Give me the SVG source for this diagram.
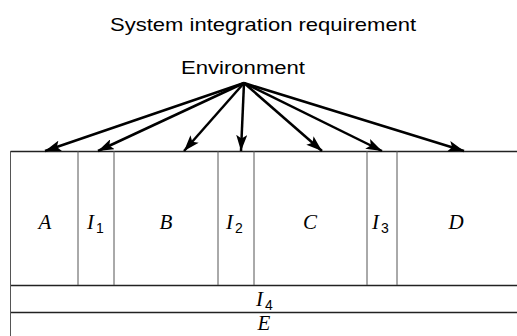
<svg xmlns="http://www.w3.org/2000/svg" width="517" height="336" viewBox="0 0 517 336">
<defs>
<marker id="ah" viewBox="0 0 16 11" refX="16" refY="5.5" markerWidth="16" markerHeight="11" markerUnits="userSpaceOnUse" orient="auto">
<path d="M0,0 L16,5.5 L0,11 L3.5,5.5 z" fill="#000"/>
</marker>
</defs>
<style>
.t{font-family:"Liberation Sans",Arial,sans-serif;fill:#000}
.m{font-family:"Liberation Serif","Times New Roman",serif;font-style:italic;font-size:21px;fill:#000}
.s{font-family:"Liberation Sans",Arial,sans-serif;font-size:14px;fill:#000}
.h{stroke:#222;stroke-width:1.4;fill:none}
.v{stroke:#555;stroke-width:1;fill:none}
.a{stroke:#000;stroke-width:2.5;fill:none;marker-end:url(#ah)}
</style>
<rect width="517" height="336" fill="#fff"/>
<g id="title"><text class="t" x="263" y="31" font-size="19" text-anchor="middle" textLength="306" lengthAdjust="spacingAndGlyphs">System integration requirement</text></g>
<g id="environment"><text class="t" x="243" y="74" font-size="18" text-anchor="middle" textLength="124" lengthAdjust="spacingAndGlyphs">Environment</text></g>
<g id="frame">
<line class="h" x1="10.5" y1="151.5" x2="517" y2="151.5"/>
<line class="h" x1="10.5" y1="285.5" x2="517" y2="285.5"/>
<line class="h" x1="10.5" y1="312.5" x2="517" y2="312.5"/>
<line class="v" x1="10.5" y1="151" x2="10.5" y2="336"/>
</g>
<g id="A"><text class="m" x="45" y="229" text-anchor="middle">A</text></g>
<g id="I1"><line class="v" x1="78" y1="151" x2="78" y2="285"/><line class="v" x1="114" y1="151" x2="114" y2="285"/><text class="m" x="87" y="229">I</text><text class="s" x="96" y="233">1</text></g>
<g id="B"><text class="m" x="166" y="229" text-anchor="middle">B</text></g>
<g id="I2"><line class="v" x1="218" y1="151" x2="218" y2="285"/><line class="v" x1="254" y1="151" x2="254" y2="285"/><text class="m" x="226" y="229">I</text><text class="s" x="235" y="233">2</text></g>
<g id="C"><text class="m" x="310" y="229" text-anchor="middle">C</text></g>
<g id="I3"><line class="v" x1="367" y1="151" x2="367" y2="285"/><line class="v" x1="397" y1="151" x2="397" y2="285"/><text class="m" x="372" y="229">I</text><text class="s" x="381" y="233">3</text></g>
<g id="D"><text class="m" x="456" y="229" text-anchor="middle">D</text></g>
<g id="I4"><text class="m" x="256" y="306">I</text><text class="s" x="265" y="310">4</text></g>
<g id="E"><text class="m" x="264" y="330" font-size="19" text-anchor="middle">E</text></g>
<g id="connectors">
<line class="a" x1="244" y1="83" x2="45" y2="151"/>
<line class="a" x1="244" y1="83" x2="98" y2="151"/>
<line class="a" x1="244" y1="83" x2="184" y2="151"/>
<line class="a" x1="244" y1="83" x2="241" y2="151"/>
<line class="a" x1="244" y1="83" x2="322" y2="151"/>
<line class="a" x1="244" y1="83" x2="382" y2="151"/>
<line class="a" x1="244" y1="83" x2="464" y2="151"/>
</g>
</svg>
